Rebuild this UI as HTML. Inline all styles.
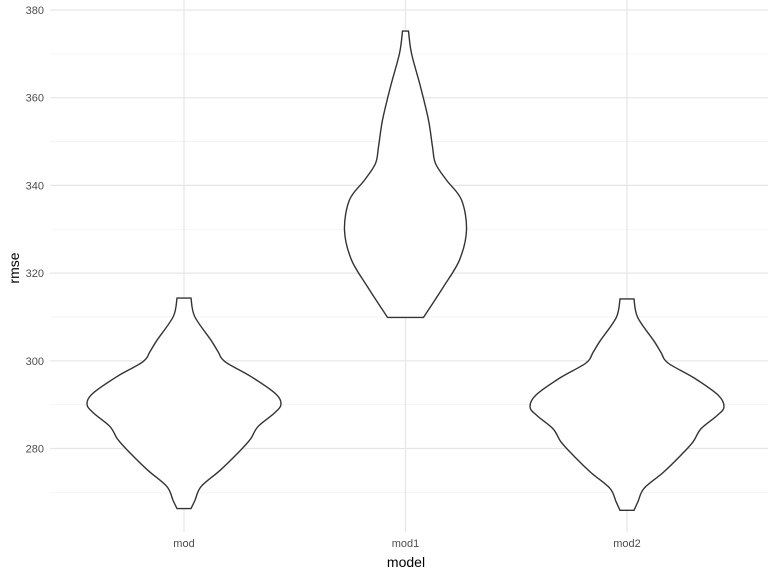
<!DOCTYPE html>
<html><head><meta charset="utf-8"><style>
html,body{margin:0;padding:0;background:#fff;}
svg{display:block;font-family:"Liberation Sans",sans-serif;}
</style></head><body>
<svg id="chart" width="768" height="576"></svg>
<script>
const categories = ["mod","mod1","mod2"];
const yTicks = [280,300,320,340,360,380];
const yMinor = [270,290,310,330,350,370];
// violin profiles: values and half-widths (density scaled)
const modValues = [314.3,310.1,304.7,302.1,299.8,296.4,292.6,290.1,288,285,282,279,275,271.3,268.2,266.3];
const modWidths = [7,10.7,27,34,41,67,91,97,90,74,66,54,36,17,11,7];
const mod1Values = [375.2,370.1,362.5,354.9,348.8,345,341.2,336.7,329.8,323,316.9,309.9];
const mod1Widths = [3,6,15,23,27,30,41,56,61,54,38,18];
const mod2Values = [314.1,309.9,304.5,301.9,299.5,296.1,292.2,289.5,287.5,284.5,281.5,278.5,274.5,270.9,267.9,265.9];
const mod2Widths = [7,10.7,27,34,41,67,91,97,90,74,66,54,36,17,11,7];
const seriesValues = [modValues, mod1Values, mod2Values];
const seriesWidths = [modWidths, mod1Widths, mod2Widths];

const NS="http://www.w3.org/2000/svg";
const svg=document.getElementById('chart');
const pL=50,pR=768,pT=0,pB=532;
function yS(v){return 10+(380-v)*4.385;}
function xS(i){return 184+i*221.5;}
function mk(t,a){const e=document.createElementNS(NS,t);for(const k in a)e.setAttribute(k,a[k]);svg.appendChild(e);return e;}

yMinor.forEach(v=>{
  const l=mk('line',{x1:pL,x2:pR,y1:yS(v),y2:yS(v),stroke:'#f3f3f3','stroke-width':0.8});
  
  
});
yTicks.forEach(v=>{
  const l=mk('line',{x1:pL,x2:pR,y1:yS(v),y2:yS(v),stroke:'#e6e6e6','stroke-width':1.2});
  
  
  const t=mk('text',{x:44,y:yS(v)+4,'text-anchor':'end','font-size':11,fill:'#4d4d4d'});
  t.textContent=v;
  
  
});
categories.forEach((c,i)=>{
  const l=mk('line',{x1:xS(i),x2:xS(i),y1:pT,y2:pB,stroke:'#e6e6e6','stroke-width':1.2});
  
  
  const t=mk('text',{x:xS(i),y:547,'text-anchor':'middle','font-size':11,fill:'#4d4d4d'});
  t.textContent=c;
  
  
});
categories.forEach((c,i)=>{
  const vs=seriesValues[i], ws=seriesWidths[i], cx=xS(i);
  const right=vs.map((v,k)=>[cx+ws[k],yS(v)]);
  const left=vs.map((v,k)=>[cx-ws[k],yS(v)]).reverse();
  function smooth(p){let d='';for(let k=0;k<p.length-1;k++){const p0=p[Math.max(0,k-1)],p1=p[k],p2=p[k+1],p3=p[Math.min(p.length-1,k+2)];
    const c1=[p1[0]+(p2[0]-p0[0])/6,p1[1]+(p2[1]-p0[1])/6],c2=[p2[0]-(p3[0]-p1[0])/6,p2[1]-(p3[1]-p1[1])/6];
    d+=` C${c1[0]},${c1[1]} ${c2[0]},${c2[1]} ${p2[0]},${p2[1]}`;}return d;}
  let d=`M${left[left.length-1][0]},${left[left.length-1][1]} L${right[0][0]},${right[0][1]}`+smooth(right)+` L${left[0][0]},${left[0][1]}`+smooth(left)+'Z';
  const p=mk('path',{d:d,fill:'#fff',stroke:'#333','stroke-width':1.4});
  
  
});
const xt=mk('text',{x:406,y:567,'text-anchor':'middle','font-size':14,fill:'#000'});
xt.textContent='model';


const yt=mk('text',{x:19,y:268,'text-anchor':'middle','font-size':14,fill:'#000',transform:'rotate(-90 19 268)'});
yt.textContent='rmse';


</script>
</body></html>
